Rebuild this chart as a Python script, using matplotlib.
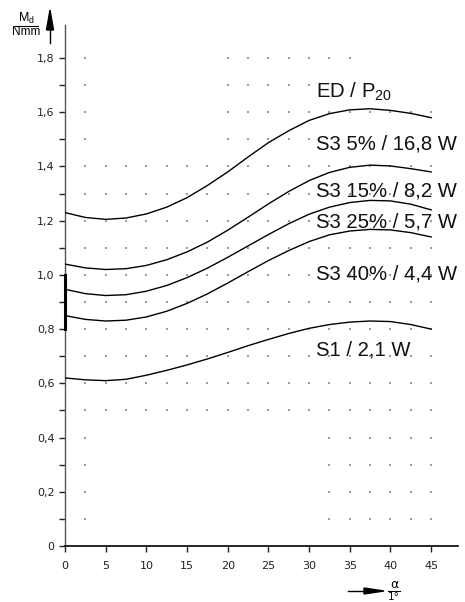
import matplotlib.pyplot as plt

# Winkel alpha in Grad
alpha = [0, 2.5, 5, 7.5, 10, 12.5, 15, 17.5, 20, 22.5, 25, 27.5, 30, 32.5, 35, 37.5, 40, 42.5, 45]

# Drehmoment-Kurven M_d / Nmm
md_ed = [1.23, 1.212, 1.205, 1.21, 1.225, 1.25, 1.285, 1.33, 1.38, 1.435, 1.488, 1.532, 1.57, 1.595, 1.609, 1.613, 1.607, 1.596, 1.58]
md_s3_5 = [1.04, 1.026, 1.02, 1.023, 1.035, 1.056, 1.085, 1.121, 1.165, 1.213, 1.262, 1.308, 1.348, 1.378, 1.397, 1.405, 1.402, 1.392, 1.38]
md_s3_15 = [0.947, 0.931, 0.924, 0.927, 0.94, 0.961, 0.99, 1.025, 1.065, 1.107, 1.149, 1.189, 1.224, 1.25, 1.267, 1.275, 1.273, 1.261, 1.24]
md_s3_25 = [0.85, 0.836, 0.83, 0.833, 0.845, 0.866, 0.895, 0.93, 0.97, 1.012, 1.053, 1.09, 1.123, 1.148, 1.162, 1.168, 1.166, 1.156, 1.14]
md_s1 = [0.62, 0.613, 0.61, 0.615, 0.63, 0.648, 0.668, 0.69, 0.714, 0.739, 0.762, 0.784, 0.803, 0.817, 0.826, 0.83, 0.828, 0.817, 0.80]

# Beschriftungen (Text, y-Grundlinie)
labels = ["ED / P$_{\\mathrm{20}}$", "S3 5% / 16,8 W", "S3 15% / 8,2 W", "S3 25% / 5,7 W", "S3 40% / 4,4 W", "S1 / 2,1 W"]
label_y = [1.652, 1.464, 1.289, 1.176, 0.982, 0.702]
label_x = 30.8

xticks = [0, 5, 10, 15, 20, 25, 30, 35, 40, 45]
yticks = [0, 0.1, 0.2, 0.3, 0.4, 0.5, 0.6, 0.7, 0.8, 0.9, 1.0, 1.1, 1.2, 1.3, 1.4, 1.5, 1.6, 1.7, 1.8]
ytick_labels = ["0", "", "0,2", "", "0,4", "", "0,6", "", "0,8", "", "1,0", "", "1,2", "", "1,4", "", "1,6", "", "1,8"]

# Punktraster
grid_x = [2.5, 5, 7.5, 10, 12.5, 15, 17.5, 20, 22.5, 25, 27.5, 30, 32.5, 35, 37.5, 40, 42.5, 45]
full_rows = [0.5, 0.6, 0.7, 0.8, 0.9, 1.0, 1.1, 1.2, 1.3, 1.4]
top_rows = [1.5, 1.6, 1.7, 1.8]
top_row_end = [30, 45, 30, 35]
bottom_rows = [0.1, 0.2, 0.3, 0.4]

plt.rcParams['font.family'] = ['DejaVu Sans']
plt.rcParams['mathtext.fontset'] = 'custom'
plt.rcParams['mathtext.rm'] = 'Liberation Sans'

W, H = 465, 602
fig = plt.figure(figsize=(W / 100, H / 100), dpi=100)
ax = fig.add_axes([65 / W, 1 - 546 / H, (458 - 65) / W, (546 - 25) / H])
ax.set_xlim(0, 48.3)
ax.set_ylim(0, 1.922)

# Punkte
dots_x, dots_y = [], []
for r in full_rows:
    for gx in grid_x:
        dots_x.append(gx); dots_y.append(r)
for r, end in zip(top_rows, top_row_end):
    for gx in grid_x:
        if gx == 2.5 or 20 <= gx <= end:
            dots_x.append(gx); dots_y.append(r)
for r in bottom_rows:
    for gx in grid_x:
        if gx == 2.5 or gx >= 32.5:
            dots_x.append(gx); dots_y.append(r)
ax.scatter(dots_x, dots_y, s=1.2, marker='s', color='#9a9a9a', linewidths=0, zorder=1)

for md in [md_ed, md_s3_5, md_s3_15, md_s3_25, md_s1]:
    ax.plot(alpha, md, color='black', lw=1.0, zorder=3, solid_joinstyle='round')

for txt, ly in zip(labels, label_y):
    ax.text(label_x, ly, txt, fontsize=14.6, family='Liberation Sans', va='baseline', ha='left', color='#111')

# Achsen
for s in ['top', 'right']:
    ax.spines[s].set_visible(False)
ax.spines['left'].set_color('#555')
ax.spines['left'].set_linewidth(1.0)
ax.spines['bottom'].set_color('black')
ax.spines['bottom'].set_linewidth(1.2)
ax.plot([0, 0], [0.8, 1.0], color='black', lw=2.2, clip_on=False, zorder=4)

ax.set_xticks(xticks)
ax.set_xticklabels([str(t) for t in xticks])
ax.set_yticks(yticks)
ax.set_yticklabels(ytick_labels)
ax.tick_params(direction='out', length=4.5, width=1.0, labelsize=8, colors='#222')
ax.tick_params(axis='x', pad=6)
ax.tick_params(axis='y', pad=3)

# Achsbeschriftung y
fig.text(26 / W, 1 - 18 / H, "M$_{\\mathrm{d}}$", fontsize=9, ha='center', va='center', family='Liberation Sans')
fig.text(26 / W, 1 - 32 / H, "Nmm", fontsize=8.5, ha='center', va='center', family='Liberation Sans')
fig.add_artist(plt.Line2D([15 / W, 38 / W], [1 - 25.5 / H, 1 - 25.5 / H], color='black', lw=0.8))
fig.add_artist(plt.Line2D([50 / W, 50 / W], [1 - 43 / H, 1 - 28 / H], color='black', lw=1.0))
fig.add_artist(plt.Polygon([[46.5 / W, 1 - 30 / H], [53.5 / W, 1 - 30 / H], [50 / W, 1 - 10 / H]],
                           closed=True, color='black', transform=fig.transFigure))

# Achsbeschriftung x
fig.add_artist(plt.Line2D([348 / W, 366 / W], [1 - 591 / H, 1 - 591 / H], color='black', lw=1.0))
fig.add_artist(plt.Polygon([[364 / W, 1 - 588 / H], [364 / W, 1 - 594 / H], [384 / W, 1 - 591 / H]],
                           closed=True, color='black', transform=fig.transFigure))
fig.text(394 / W, 1 - 584.5 / H, "\u03b1", fontsize=9, ha='center', va='center')
fig.add_artist(plt.Line2D([388 / W, 400 / W], [1 - 591 / H, 1 - 591 / H], color='black', lw=0.8))
fig.text(394 / W, 1 - 597.5 / H, "1°", fontsize=7.5, ha='center', va='center')

fig.savefig('out.png', dpi=100)
